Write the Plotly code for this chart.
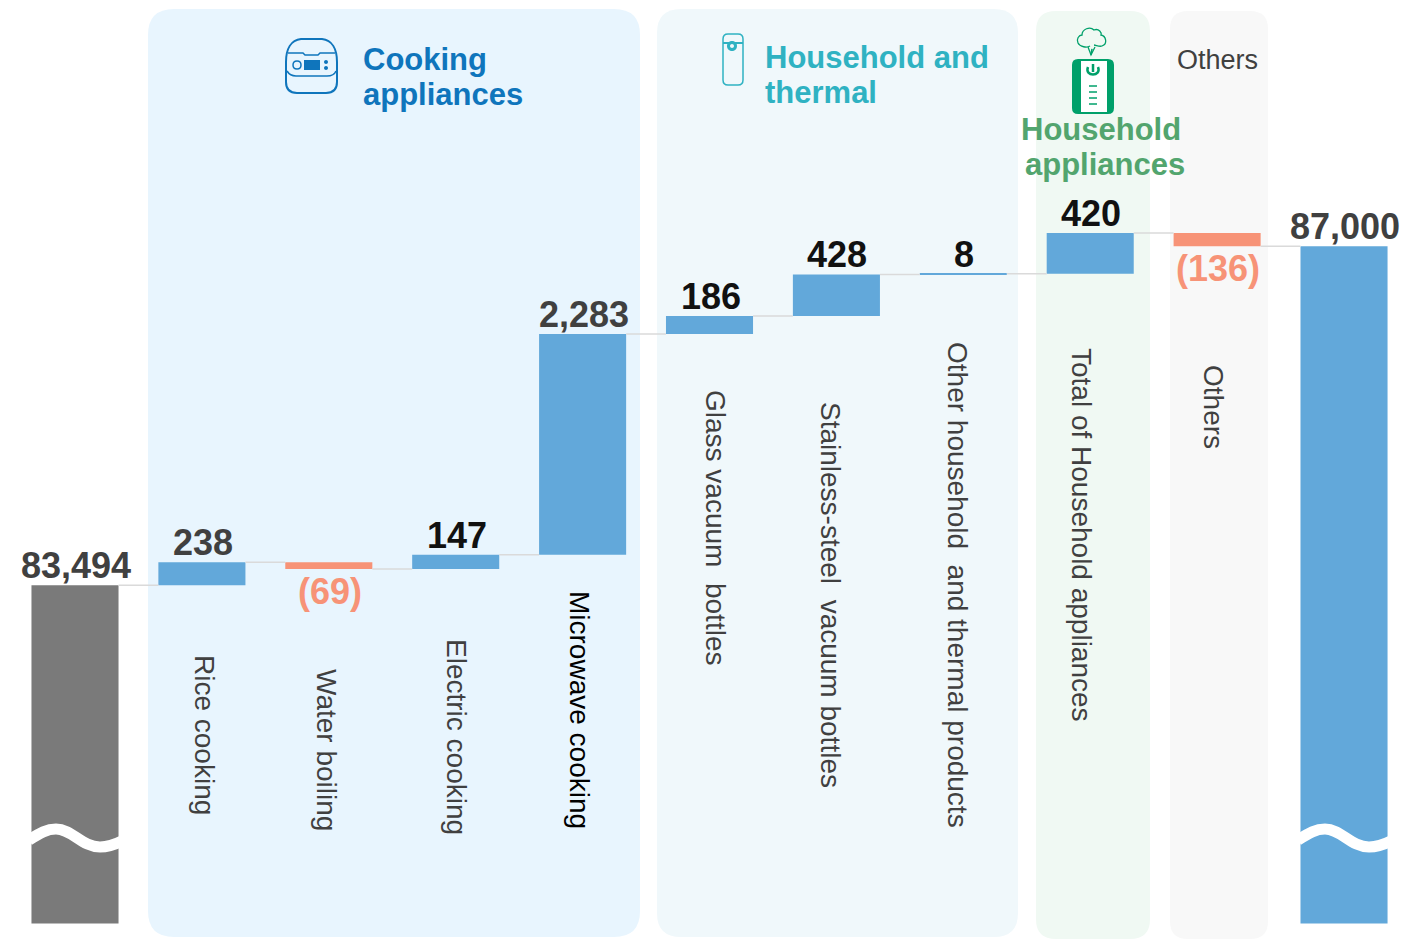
import plotly.graph_objects as go

W, H = 1401, 939
categories = ["Opening", "Rice cooking", "Water boiling", "Electric cooking", "Microwave cooking",
              "Glass vacuum bottles", "Stainless-steel vacuum bottles",
              "Other household and thermal products", "Total of Household appliances", "Others", "Closing"]
opening_value = 83494
closing_value = 87000
changes = [238, -69, 147, 2283, 186, 428, 8, 420, -136]
value_labels = ["83,494", "238", "(69)", "147", "2,283", "186", "428", "8", "420", "(136)", "87,000"]
axis_floor = 80000
GREY, BLUE, SALMON = "#7A7A7A", "#62A8DA", "#F79377"


def px(x):
    return x / W


def py(y):
    return 1 - y / H


def path(d):
    out = []
    toks = d.split()
    i = 0
    while i < len(toks):
        t = toks[i]
        if t.isalpha():
            out.append(t)
            i += 1
        else:
            out.append(f"{px(float(t)):.5f},{py(float(toks[i + 1])):.5f}")
            i += 2
    return " ".join(out)


def rrect(x0, y0, x1, y1, r):
    return (f"M {x0 + r} {y0} L {x1 - r} {y0} Q {x1} {y0} {x1} {y0 + r} L {x1} {y1 - r} "
            f"Q {x1} {y1} {x1 - r} {y1} L {x0 + r} {y1} Q {x0} {y1} {x0} {y1 - r} L {x0} {y0 + r} "
            f"Q {x0} {y0} {x0 + r} {y0} Z")


def circle(cx, cy, r):
    k = r * 1.333
    return (f"M {cx - r} {cy} C {cx - r} {cy - k} {cx + r} {cy - k} {cx + r} {cy} "
            f"C {cx + r} {cy + k} {cx - r} {cy + k} {cx - r} {cy} Z")


shapes = []


def add(d, fill=None, line=None, w=0, layer="above"):
    shapes.append(dict(type="path", xref="paper", yref="paper", path=path(d), layer=layer,
                       fillcolor=fill or "rgba(0,0,0,0)",
                       line=dict(color=line or "rgba(0,0,0,0)", width=w)))


# panels
add(rrect(148, 9, 640, 937, 26), "#E8F5FE", layer="below")
add(rrect(657, 9, 1018, 937, 24), "#F0F8FB", layer="below")
add(rrect(1036, 11, 1150, 939, 20), "#F0F9F3", layer="below")
add(rrect(1170, 11, 1268, 939, 18), "#F8F8F8", layer="below")

# bars
bases, heights, colors = [axis_floor], [opening_value - axis_floor], [GREY]
level = opening_value
levels = [level]
for c in changes:
    new = level + c
    bases.append(min(level, new))
    heights.append(abs(c))
    colors.append(BLUE if c > 0 else SALMON)
    level = new
    levels.append(level)
bases.append(axis_floor)
heights.append(closing_value - axis_floor)
colors.append(BLUE)

positions = list(range(len(categories)))
half_bar = 0.343
fig = go.Figure()
conn_x, conn_y = [], []
for i in positions[:-1]:
    conn_x += [i + half_bar, i + 1 - half_bar, None]
    conn_y += [levels[i], levels[i], None]
fig.add_trace(go.Scatter(x=conn_x, y=conn_y, mode="lines", line=dict(color="#DADADA", width=1.5),
                         hoverinfo="skip", showlegend=False))
fig.add_trace(go.Bar(x=positions, y=heights, base=bases, marker=dict(color=colors, line=dict(width=0)),
                     customdata=categories, hovertemplate="%{customdata}<extra></extra>", showlegend=False))

# axis-break waves
for dx in (0, 1269):
    add(f"M {29 + dx} 840 C {40 + dx} 833 {47 + dx} 829 {56 + dx} 829 C {72 + dx} 829 {82 + dx} 847 {100 + dx} 847 "
        f"C {108 + dx} 847 {114 + dx} 845 {122 + dx} 841", line="#FFFFFF", w=11)

# rice cooker icon
C = "#0F75BC"
add("M 301 39 L 322 39 C 332 40 337 49 337 62 L 337 82 Q 337 93 326 93 L 297 93 Q 286 93 286 82 "
    "L 286 62 C 286 49 291 40 301 39 Z", line=C, w=2)
add("M 288 53 L 303 53 L 305 55 L 318 55 L 320 53 L 335 53", line=C, w=1.5)
add("M 287 71 Q 290 76 296 76 L 327 76 Q 334 76 336 71", line=C, w=1.5)
add("M 304 60 L 320 60 L 320 70 L 304 70 Z", fill=C)
add(circle(297, 65, 4), line=C, w=1.5)
add(circle(326, 62, 2), fill=C)
add(circle(326, 68, 2), fill=C)

# bottle icon
T = "#2FB2C2"
add(rrect(723, 34, 743, 85, 5), line=T, w=1.5)
add("M 723 43 L 743 43", line=T, w=2)
add(circle(732, 46, 5), fill=T)
add(circle(732, 46, 2), fill="#F0F8FB")

# household appliance icon
G = "#00A06A"
add(rrect(1072, 59, 1114, 114, 6), fill=G)
add("M 1081 61 L 1107 61 L 1107 112 L 1081 112 Z", fill="#FFFFFF")
add("M 1088 67 C 1084 77 1102 77 1098 67", line=G, w=2.5)
add("M 1093 64 L 1093 72", line=G, w=2.5)
for yy in (86, 92, 98, 104):
    add(f"M 1089 {yy} L 1097 {yy}", line=G, w=1.5)
add("M 1090 46 C 1087 48 1080 47 1078 43 C 1076 39 1079 35 1082 35 C 1082 29 1090 26 1094 30 "
    "C 1099 28 1102 33 1101 35 C 1106 36 1108 44 1102 46 C 1099 47 1096 45 1094 45", line=G, w=1.3)
add("M 1088 47 L 1091 55 L 1095 47", line=G, w=1.3)
add("M 1091 55 L 1092 49", line=G, w=1.5)

ann = []


def text(x, y, s, size, color, bold=False, angle=0, xanchor="center", yanchor="middle"):
    ann.append(dict(x=px(x), y=py(y), xref="paper", yref="paper", text=f"<b>{s}</b>" if bold else s,
                    showarrow=False, textangle=angle, xanchor=xanchor, yanchor=yanchor,
                    font=dict(size=size, color=color, family="Liberation Sans, Arial, sans-serif")))


text(361, 60, "Cooking", 31, C, True, xanchor="left")
text(361, 95, "appliances", 31, C, True, xanchor="left")
text(763, 57, "Household and", 31, T, True, xanchor="left")
text(763, 92, "thermal", 31, T, True, xanchor="left")
text(1101, 130, "Household", 31, "#52A56E", True)
text(1105, 164, "appliances", 31, "#52A56E", True)
text(1217, 60, "Others", 27, "#404040")

# rotated labels
rot_labels = ["Rice cooking", "Water boiling", "Electric cooking", "Microwave cooking",
              "Glass vacuum\u00a0 bottles", "Stainless-steel\u00a0 vacuum bottles",
              "Other household\u00a0 and thermal products", "Total of Household appliances", "Others"]
rot_x = [205, 327, 457, 580, 716, 831, 958, 1082, 1214]
rot_y = [735, 750, 737, 710, 527, 595, 585, 535, 407]
rot_col = ["#404040", "#404040", "#404040", "#000000", "#404040", "#404040", "#404040", "#404040", "#404040"]
for s, xx, yy, col in zip(rot_labels, rot_x, rot_y, rot_col):
    text(xx, yy, s, 28, col, angle=90)

# value labels
lab_col = ["#404040", "#404040", SALMON, "#111111", "#404040", "#111111", "#111111", "#111111", "#111111", SALMON, "#404040"]
for i, lab in zip(positions, value_labels):
    neg = lab.startswith("(")
    top = bases[i] + heights[i]
    ann.append(dict(x=i, y=bases[i] if neg else top, xref="x", yref="y", text=f"<b>{lab}</b>", showarrow=False,
                    xanchor="center", yanchor="top" if neg else "bottom", yshift=0 if neg else -3, xshift=1,
                    font=dict(size=36, color=lab_col[i], family="Liberation Sans, Arial, sans-serif")))

fig.update_layout(
    width=W, height=H, margin=dict(l=0, r=0, t=0, b=0), paper_bgcolor="#FFFFFF", plot_bgcolor="rgba(0,0,0,0)",
    bargap=0.314, shapes=shapes, annotations=ann,
    xaxis=dict(range=[-0.591, 10.449], tickvals=positions, ticktext=categories, visible=False, fixedrange=True),
    yaxis=dict(range=[79839, 89544], visible=False, fixedrange=True),
)
fig.write_html("out.html", post_script="document.body.style.margin='0';document.body.style.overflow='hidden';",
               config=dict(displayModeBar=False))
